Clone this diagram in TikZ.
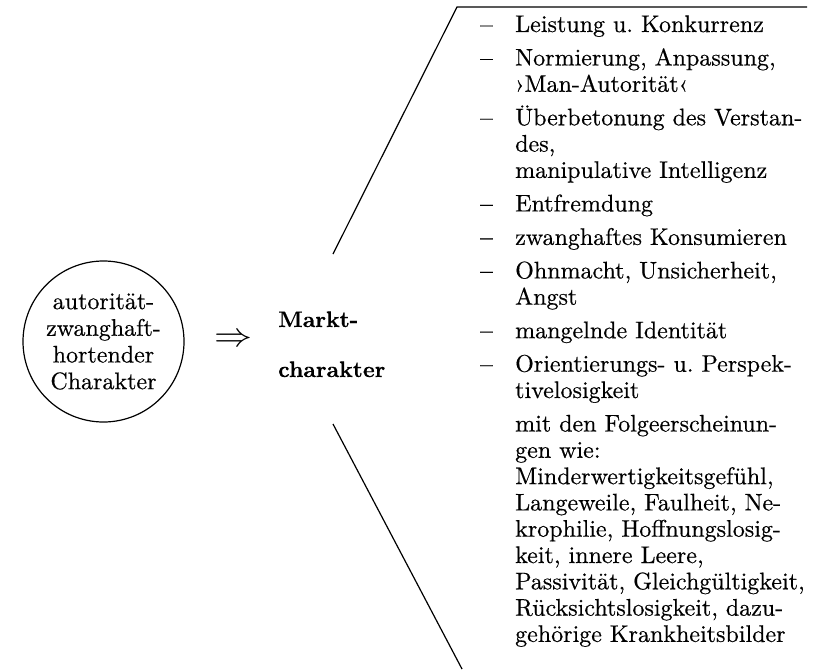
\documentclass[tikz,border=0pt]{standalone}
\usepackage{graphicx}
\usepackage{fontspec}
\newfontfamily\heavy{lmroman10-regular.otf}[FakeBold=0.45]
\newfontfamily\hdfont{lmroman10-bold.otf}[FakeBold=0.3]
\frenchspacing
\tikzset{
  every picture/.style={x=1pt,y=-1pt},
  lst/.style={anchor=base west, inner sep=0pt, font=\heavy\fontsize{24}{26}\selectfont},
  dsh/.style={anchor=base west, inner sep=0pt, font=\hdfont\fontsize{22}{26}\selectfont},
  hd/.style={anchor=base west, inner sep=0pt, font=\hdfont\fontsize{22.5}{26}\selectfont},
  src/.style={circle, draw, line width=1.2pt, minimum size=161pt, inner sep=0pt, align=center, font=\heavy\fontsize{24}{26.7}\selectfont},
  ln/.style={line width=1.2pt}
}
\begin{document}
\begin{tikzpicture}
\useasboundingbox (0,0) rectangle (813,669);
\node[src] (circ) at (103.5,341.5) {autorität-\\zwanghaft-\\hortender\\Charakter};
\node[inner sep=0pt] (arr) at (233,340) {\scalebox{3.8}[3.4]{$\Rightarrow$}};
\node[hd] (mk1) at (278,327) {Markt-};
\node[hd] (mk2) at (278,377) {charakter};
\coordinate (ua) at (333,254);
\coordinate (ub) at (457,7);
\coordinate (uc) at (807,7);
\coordinate (la) at (333,424);
\coordinate (lb) at (462,669);
\draw[ln] (ua) -- (ub) -- (uc);
\draw[ln] (la) -- (lb);
% dashes
\node[dsh] (d1) at (480,32) {–};
\node[dsh] (d2) at (480,65.5) {–};
\node[dsh] (d3) at (480,125.3) {–};
\node[dsh] (d4) at (480,211.4) {–};
\node[dsh] (d5) at (480,244.9) {–};
\node[dsh] (d6) at (480,278.4) {–};
\node[dsh] (d7) at (480,338.2) {–};
\node[dsh] (d8) at (480,371.7) {–};
% list lines
\node[lst] (t1) at (515,32) {Leistung u. Konkurrenz};
\node[lst] (t2) at (515,65.5) {Normierung, Anpassung,};
\node[lst] (t3) at (515,91.8) {›Man-Autorität‹};
\node[lst] (t4) at (515,125.3) {Überbetonung des Verstan-};
\node[lst] (t5) at (515,151.6) {des,};
\node[lst] (t6) at (515,177.9) {manipulative Intelligenz};
\node[lst] (t7) at (515,211.4) {Entfremdung};
\node[lst] (t8) at (515,244.9) {zwanghaftes Konsumieren};
\node[lst] (t9) at (515,278.4) {Ohnmacht, Unsicherheit,};
\node[lst] (t10) at (515,304.7) {Angst};
\node[lst] (t11) at (515,338.2) {mangelnde Identität};
\node[lst] (t12) at (515,371.7) {Orientierungs- u. Perspek-};
\node[lst] (t13) at (515,398) {tivelosigkeit};
\node[lst] (t14) at (515,431.5) {mit den Folgeerscheinun-};
\node[lst] (t15) at (515,457.8) {gen wie:};
\node[lst] (t16) at (515,484.1) {Minderwertigkeitsgefühl,};
\node[lst] (t17) at (515,510.4) {Langeweile, Faulheit, Ne-};
\node[lst] (t18) at (515,536.7) {krophilie, Hoffnungslosig-};
\node[lst] (t19) at (515,563) {keit, innere Leere,};
\node[lst] (t20) at (515,589.3) {Passivität, Gleichgültigkeit,};
\node[lst] (t21) at (515,615.6) {Rücksichtslosigkeit, dazu-};
\node[lst] (t22) at (515,641.9) {gehörige Krankheitsbilder};
\end{tikzpicture}
\end{document}
